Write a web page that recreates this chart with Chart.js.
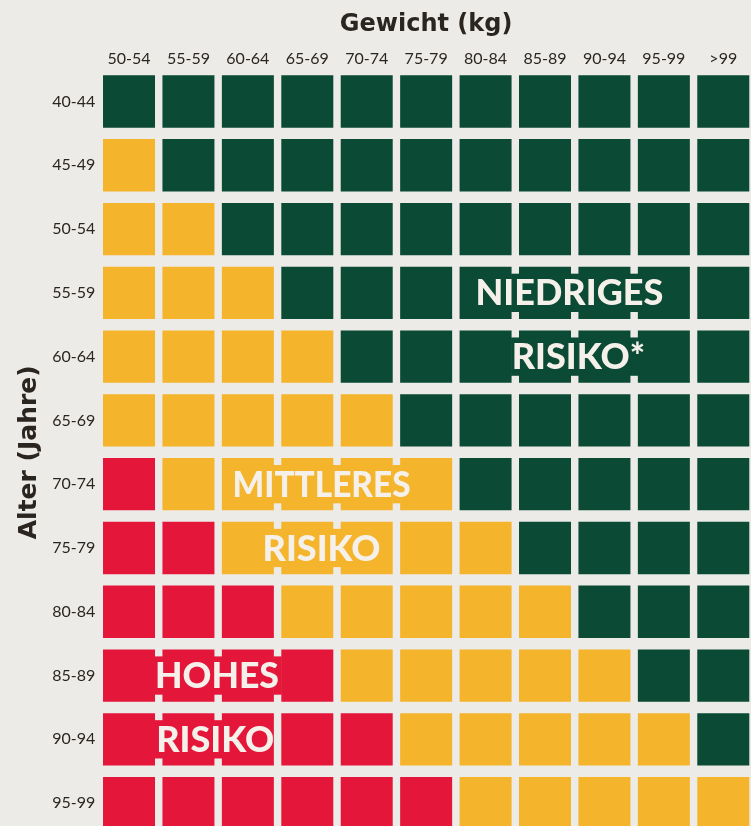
<!DOCTYPE html>
<html lang="de">
<head>
<meta charset="utf-8">
<title>Risiko nach Alter und Gewicht</title>
<script src="https://cdn.jsdelivr.net/npm/chart.js@4.4.1/dist/chart.umd.min.js"></script>
<style>
  html, body { margin: 0; padding: 0; background: #ecebe8; overflow: hidden; }
  #wrap { width: 751px; height: 826px; overflow: hidden; }
</style>
</head>
<body>
<div id="wrap"><canvas id="riskChart" width="753" height="835"></canvas></div>
<script>
// Gewichtsklassen (Spalten) und Altersklassen (Zeilen)
const weights = ['50-54', '55-59', '60-64', '65-69', '70-74', '75-79', '80-84', '85-89', '90-94', '95-99', '>99'];
const ages = ['40-44', '45-49', '50-54', '55-59', '60-64', '65-69', '70-74', '75-79', '80-84', '85-89', '90-94', '95-99'];

// Risiko pro Feld: 0 = niedrig, 1 = mittel, 2 = hoch (eine Zeile je Altersklasse)
const riskRows = [
  [0, 0, 0, 0, 0, 0, 0, 0, 0, 0, 0],
  [1, 0, 0, 0, 0, 0, 0, 0, 0, 0, 0],
  [1, 1, 0, 0, 0, 0, 0, 0, 0, 0, 0],
  [1, 1, 1, 0, 0, 0, 0, 0, 0, 0, 0],
  [1, 1, 1, 1, 0, 0, 0, 0, 0, 0, 0],
  [1, 1, 1, 1, 1, 0, 0, 0, 0, 0, 0],
  [2, 1, 1, 1, 1, 1, 0, 0, 0, 0, 0],
  [2, 2, 1, 1, 1, 1, 1, 0, 0, 0, 0],
  [2, 2, 2, 1, 1, 1, 1, 1, 0, 0, 0],
  [2, 2, 2, 2, 1, 1, 1, 1, 1, 0, 0],
  [2, 2, 2, 2, 2, 1, 1, 1, 1, 1, 0],
  [2, 2, 2, 2, 2, 2, 1, 1, 1, 1, 1]
];
const riskNames = ['niedriges Risiko', 'mittleres Risiko', 'hohes Risiko'];
const riskColors = ['#0b4a34', '#f4b42b', '#e4173b'];

// zusammengefasste Felder mit Beschriftung: Zeile, erste/letzte Spalte, Text
const blockRows = [3, 4, 6, 7, 9, 10];
const blockFrom = [6, 6, 2, 2, 0, 0];
const blockTo = [9, 9, 5, 4, 3, 2];
const blockText = ['NIEDRIGES', 'RISIKO*', 'MITTLERES', 'RISIKO', 'HOHES', 'RISIKO'];

// layout of the overlay text (centre in column units, max width in px) - not data
const blockTextX = [7.41, 7.56, 3.24, 3.24, 1.48, 1.45];
const blockTextW = [188, 134, 178, 119, 124, 121];

const CELL_H = 0.41;   // half cell height in row units
const BAR_PCT = 0.875;
const NOTCH = 7;

const inkColor = '#2b2520';

// one dataset per risk level, each cell is a floating bar
const datasets = riskNames.map((name, level) => ({
    label: name,
    backgroundColor: riskColors[level],
    data: []
}));
riskRows.forEach((row, r) => {
    row.forEach((level, c) => {
        datasets[level].data.push({ x: weights[c], y: [r - CELL_H, r + CELL_H] });
    });
});

// fills the gaps inside a label block and writes the text
const blockPlugin = {
    id: 'riskBlocks',
    afterDatasetsDraw(chart) {
        const { ctx, scales: { x, y } } = chart;
        const pitch = x.getPixelForValue(1) - x.getPixelForValue(0);
        const half = pitch * BAR_PCT / 2;
        ctx.save();
        blockRows.forEach((row, i) => {
            const color = riskColors[riskRows[row][blockFrom[i]]];
            const top = Math.min(y.getPixelForValue(row - CELL_H), y.getPixelForValue(row + CELL_H));
            const bottom = Math.max(y.getPixelForValue(row - CELL_H), y.getPixelForValue(row + CELL_H));
            ctx.fillStyle = color;
            for (let c = blockFrom[i]; c < blockTo[i]; c++) {
                const left = x.getPixelForValue(c) + half;
                const right = x.getPixelForValue(c + 1) - half;
                ctx.fillRect(left - 0.5, top + NOTCH, right - left + 1, bottom - top - 2 * NOTCH);
            }
            ctx.fillStyle = '#f5f1ea';
            ctx.font = '900 36px Lato';
            ctx.textAlign = 'center';
            ctx.textBaseline = 'middle';
            ctx.fillText(blockText[i], x.getPixelForValue(blockTextX[i]), (top + bottom) / 2 + 1, blockTextW[i]);
        });
        ctx.restore();
    }
};

new Chart(document.getElementById('riskChart'), {
    type: 'bar',
    data: { labels: weights, datasets: datasets },
    plugins: [blockPlugin],
    options: {
        responsive: false,
        animation: false,
        layout: { padding: 0 },
        datasets: {
            bar: { grouped: false, barPercentage: BAR_PCT, categoryPercentage: 1, borderWidth: 0 }
        },
        plugins: {
            legend: { display: false },
            tooltip: { enabled: false }
        },
        scales: {
            x: {
                type: 'category',
                position: 'top',
                offset: true,
                grid: { display: false, drawTicks: false },
                border: { display: false },
                ticks: {
                    color: inkColor,
                    font: { family: 'Lato', size: 16 },
                    padding: 1,
                    maxRotation: 0,
                    autoSkip: false
                },
                title: {
                    display: true,
                    text: 'Gewicht (kg)',
                    color: inkColor,
                    font: { family: 'DejaVu Sans', weight: 'bold', size: 24 },
                    padding: { top: 10, bottom: 0 }
                },
                afterFit: s => {
                    s.height = 69.6;
                    s.paddingLeft = 0;
                    s.paddingRight = 0;
                }
            },
            y: {
                type: 'linear',
                min: -0.5,
                max: 11.5,
                reverse: true,
                grid: { display: false, drawTicks: false },
                border: { display: false },
                afterBuildTicks: s => { s.ticks = ages.map((a, i) => ({ value: i })); },
                ticks: {
                    color: inkColor,
                    font: { family: 'Lato', size: 16 },
                    padding: 4,
                    callback: v => ages[v]
                },
                title: {
                    display: true,
                    text: 'Alter (Jahre)',
                    color: inkColor,
                    font: { family: 'DejaVu Sans', weight: 'bold', size: 25 },
                    padding: { top: 14, bottom: 0 }
                },
                afterFit: s => {
                    s.width = 99.3;
                    s.paddingTop = 0;
                    s.paddingBottom = 0;
                }
            }
        }
    }
});
</script>
</body>
</html>
